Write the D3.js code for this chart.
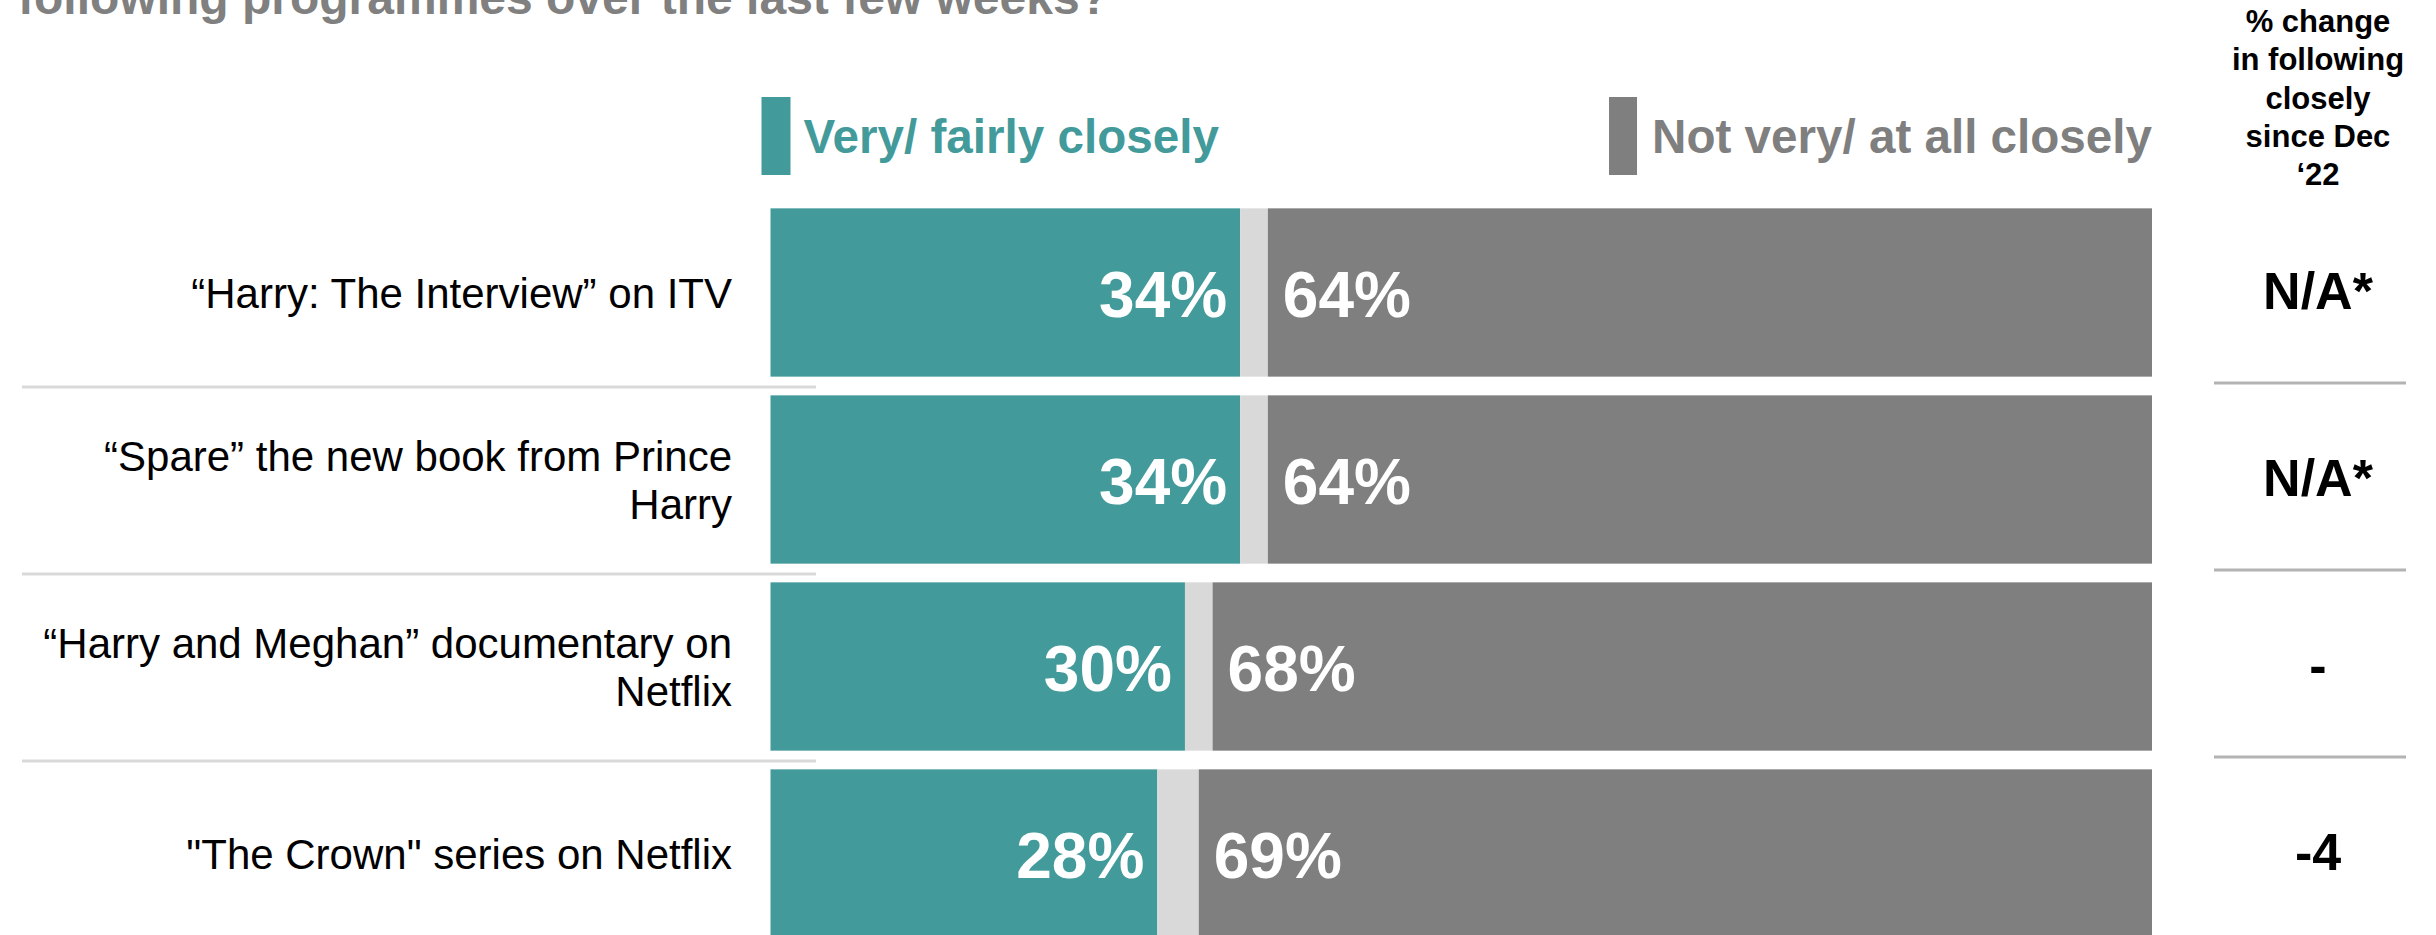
<!DOCTYPE html>
<html>
<head>
<meta charset="utf-8">
<script src="https://cdn.jsdelivr.net/npm/d3@7"></script>
<style>
  body { margin: 0; background: #fff; }
  svg { display: block; font-family: "Liberation Sans", Arial, sans-serif; }
</style>
</head>
<body>
<script>
// datos
var categorias = ["Harry ITV", "Spare", "Harry y Meghan", "The Crown"];
var etiquetas = [
  ["“Harry: The Interview” on ITV"],
  ["“Spare” the new book from Prince", "Harry"],
  ["“Harry and Meghan” documentary on", "Netflix"],
  ["\"The Crown\" series on Netflix"]
];
var muyCerca = [34, 34, 30, 28];
var noSabe = [2, 2, 2, 3];
var pocoCerca = [64, 64, 68, 69];
var cambioDic = ["N/A*", "N/A*", "-", "-4"];
var cabecera = ["% change", "in following", "closely", "since Dec", "‘22"];
var leyenda = ["Very/ fairly closely", "Not very/ at all closely"];
var titulo = "following programmes over the last few weeks?";

var w = 2436, h = 935;
var colores = { very: "#439a9a", dk: "#d9d9d9", not: "#7f7f7f" };

var filas = categorias.map(function (c, i) {
  return { cat: c, very: muyCerca[i], dk: noSabe[i], not: pocoCerca[i] };
});

var svg = d3.select("body").append("svg")
  .attr("width", w).attr("height", h);

var x = d3.scaleLinear().domain([0, 100]).range([770.5, 2152]);
var y = d3.scaleBand().domain(categorias).range([199, 947])
  .paddingInner(0.1).paddingOuter(0.05);

// titulo (cortado arriba)
svg.append("text")
  .attr("x", 18).attr("y", 14)
  .attr("font-size", 48).attr("font-weight", "bold")
  .attr("fill", "#808080")
  .text(titulo);

// separadores
var medios = categorias.slice(0, -1).map(function (c) {
  return y(c) + y.bandwidth() + (y.step() - y.bandwidth()) / 2;
});
svg.selectAll("line.sepIzq").data(medios).enter().append("line")
  .attr("class", "sepIzq")
  .attr("x1", 22).attr("x2", 816)
  .attr("y1", function (d) { return d + 1; })
  .attr("y2", function (d) { return d + 1; })
  .attr("stroke", "#d9d9d9").attr("stroke-width", 3);
svg.selectAll("line.sepDer").data(medios).enter().append("line")
  .attr("class", "sepDer")
  .attr("x1", 2214).attr("x2", 2406)
  .attr("y1", function (d) { return d - 3; })
  .attr("y2", function (d) { return d - 3; })
  .attr("stroke", "#b3b3b3").attr("stroke-width", 3);

// barras apiladas
var stack = d3.stack().keys(["very", "dk", "not"]);
var series = stack(filas);

svg.selectAll("g.serie").data(series).enter().append("g")
  .attr("class", "serie")
  .attr("fill", function (d) { return colores[d.key]; })
  .selectAll("rect").data(function (d) { return d; }).enter().append("rect")
  .attr("x", function (d) { return x(d[0]); })
  .attr("width", function (d) { return x(d[1]) - x(d[0]); })
  .attr("y", function (d) { return y(d.data.cat); })
  .attr("height", y.bandwidth());

// valores dentro de las barras
svg.selectAll("text.valVery").data(filas).enter().append("text")
  .attr("class", "valVery")
  .attr("x", function (d) { return x(d.very) - 13; })
  .attr("y", function (d) { return y(d.cat) + y.bandwidth() / 2 + 24; })
  .attr("text-anchor", "end")
  .attr("font-size", 64).attr("font-weight", "bold").attr("fill", "#fff")
  .text(function (d) { return d.very + "%"; });

svg.selectAll("text.valNot").data(filas).enter().append("text")
  .attr("class", "valNot")
  .attr("x", function (d) { return x(d.very + d.dk) + 15; })
  .attr("y", function (d) { return y(d.cat) + y.bandwidth() / 2 + 24; })
  .attr("font-size", 64).attr("font-weight", "bold").attr("fill", "#fff")
  .text(function (d) { return d.not + "%"; });

// etiquetas de categorias
var lh = 48;
svg.selectAll("text.cat").data(categorias).enter().append("text")
  .attr("class", "cat")
  .attr("text-anchor", "end")
  .attr("font-size", 42).attr("fill", "#000")
  .each(function (c, i) {
    var lineas = etiquetas[i];
    var cy = y(c) + y.bandwidth() / 2;
    var y0 = cy - (lineas.length - 1) * lh / 2 + 15;
    d3.select(this).selectAll("tspan").data(lineas).enter().append("tspan")
      .attr("x", 732)
      .attr("y", function (l, j) { return y0 + j * lh; })
      .text(function (l) { return l; });
  });

// columna derecha
var xDer = 2318;
svg.append("text")
  .attr("text-anchor", "middle")
  .attr("font-size", 31).attr("font-weight", "bold").attr("fill", "#000")
  .selectAll("tspan").data(cabecera).enter().append("tspan")
  .attr("x", xDer)
  .attr("y", function (d, i) { return 32 + i * 38.3; })
  .text(function (d) { return d; });

svg.selectAll("text.cambio").data(cambioDic).enter().append("text")
  .attr("class", "cambio")
  .attr("x", xDer)
  .attr("y", function (d, i) { return y(categorias[i]) + y.bandwidth() / 2 + 16; })
  .attr("text-anchor", "middle")
  .attr("font-size", 52).attr("font-weight", "bold").attr("fill", "#000")
  .text(function (d) { return d; });

// leyenda
var leyY = 97, leyH = 78;
svg.append("rect")
  .attr("x", x(0) - 9).attr("y", leyY).attr("width", 29).attr("height", leyH)
  .attr("fill", colores.very);
svg.append("text")
  .attr("x", x(0) + 33).attr("y", 153)
  .attr("font-size", 47.6).attr("font-weight", "bold").attr("fill", colores.very)
  .text(leyenda[0]);

var txtNot = svg.append("text")
  .attr("x", x(100)).attr("y", 153)
  .attr("text-anchor", "end")
  .attr("font-size", 47.6).attr("font-weight", "bold").attr("fill", colores.not)
  .text(leyenda[1]);
var anchoNot = txtNot.node().getComputedTextLength();
svg.append("rect")
  .attr("x", x(100) - anchoNot - 43).attr("y", leyY).attr("width", 28).attr("height", leyH)
  .attr("fill", colores.not);
</script>
</body>
</html>
